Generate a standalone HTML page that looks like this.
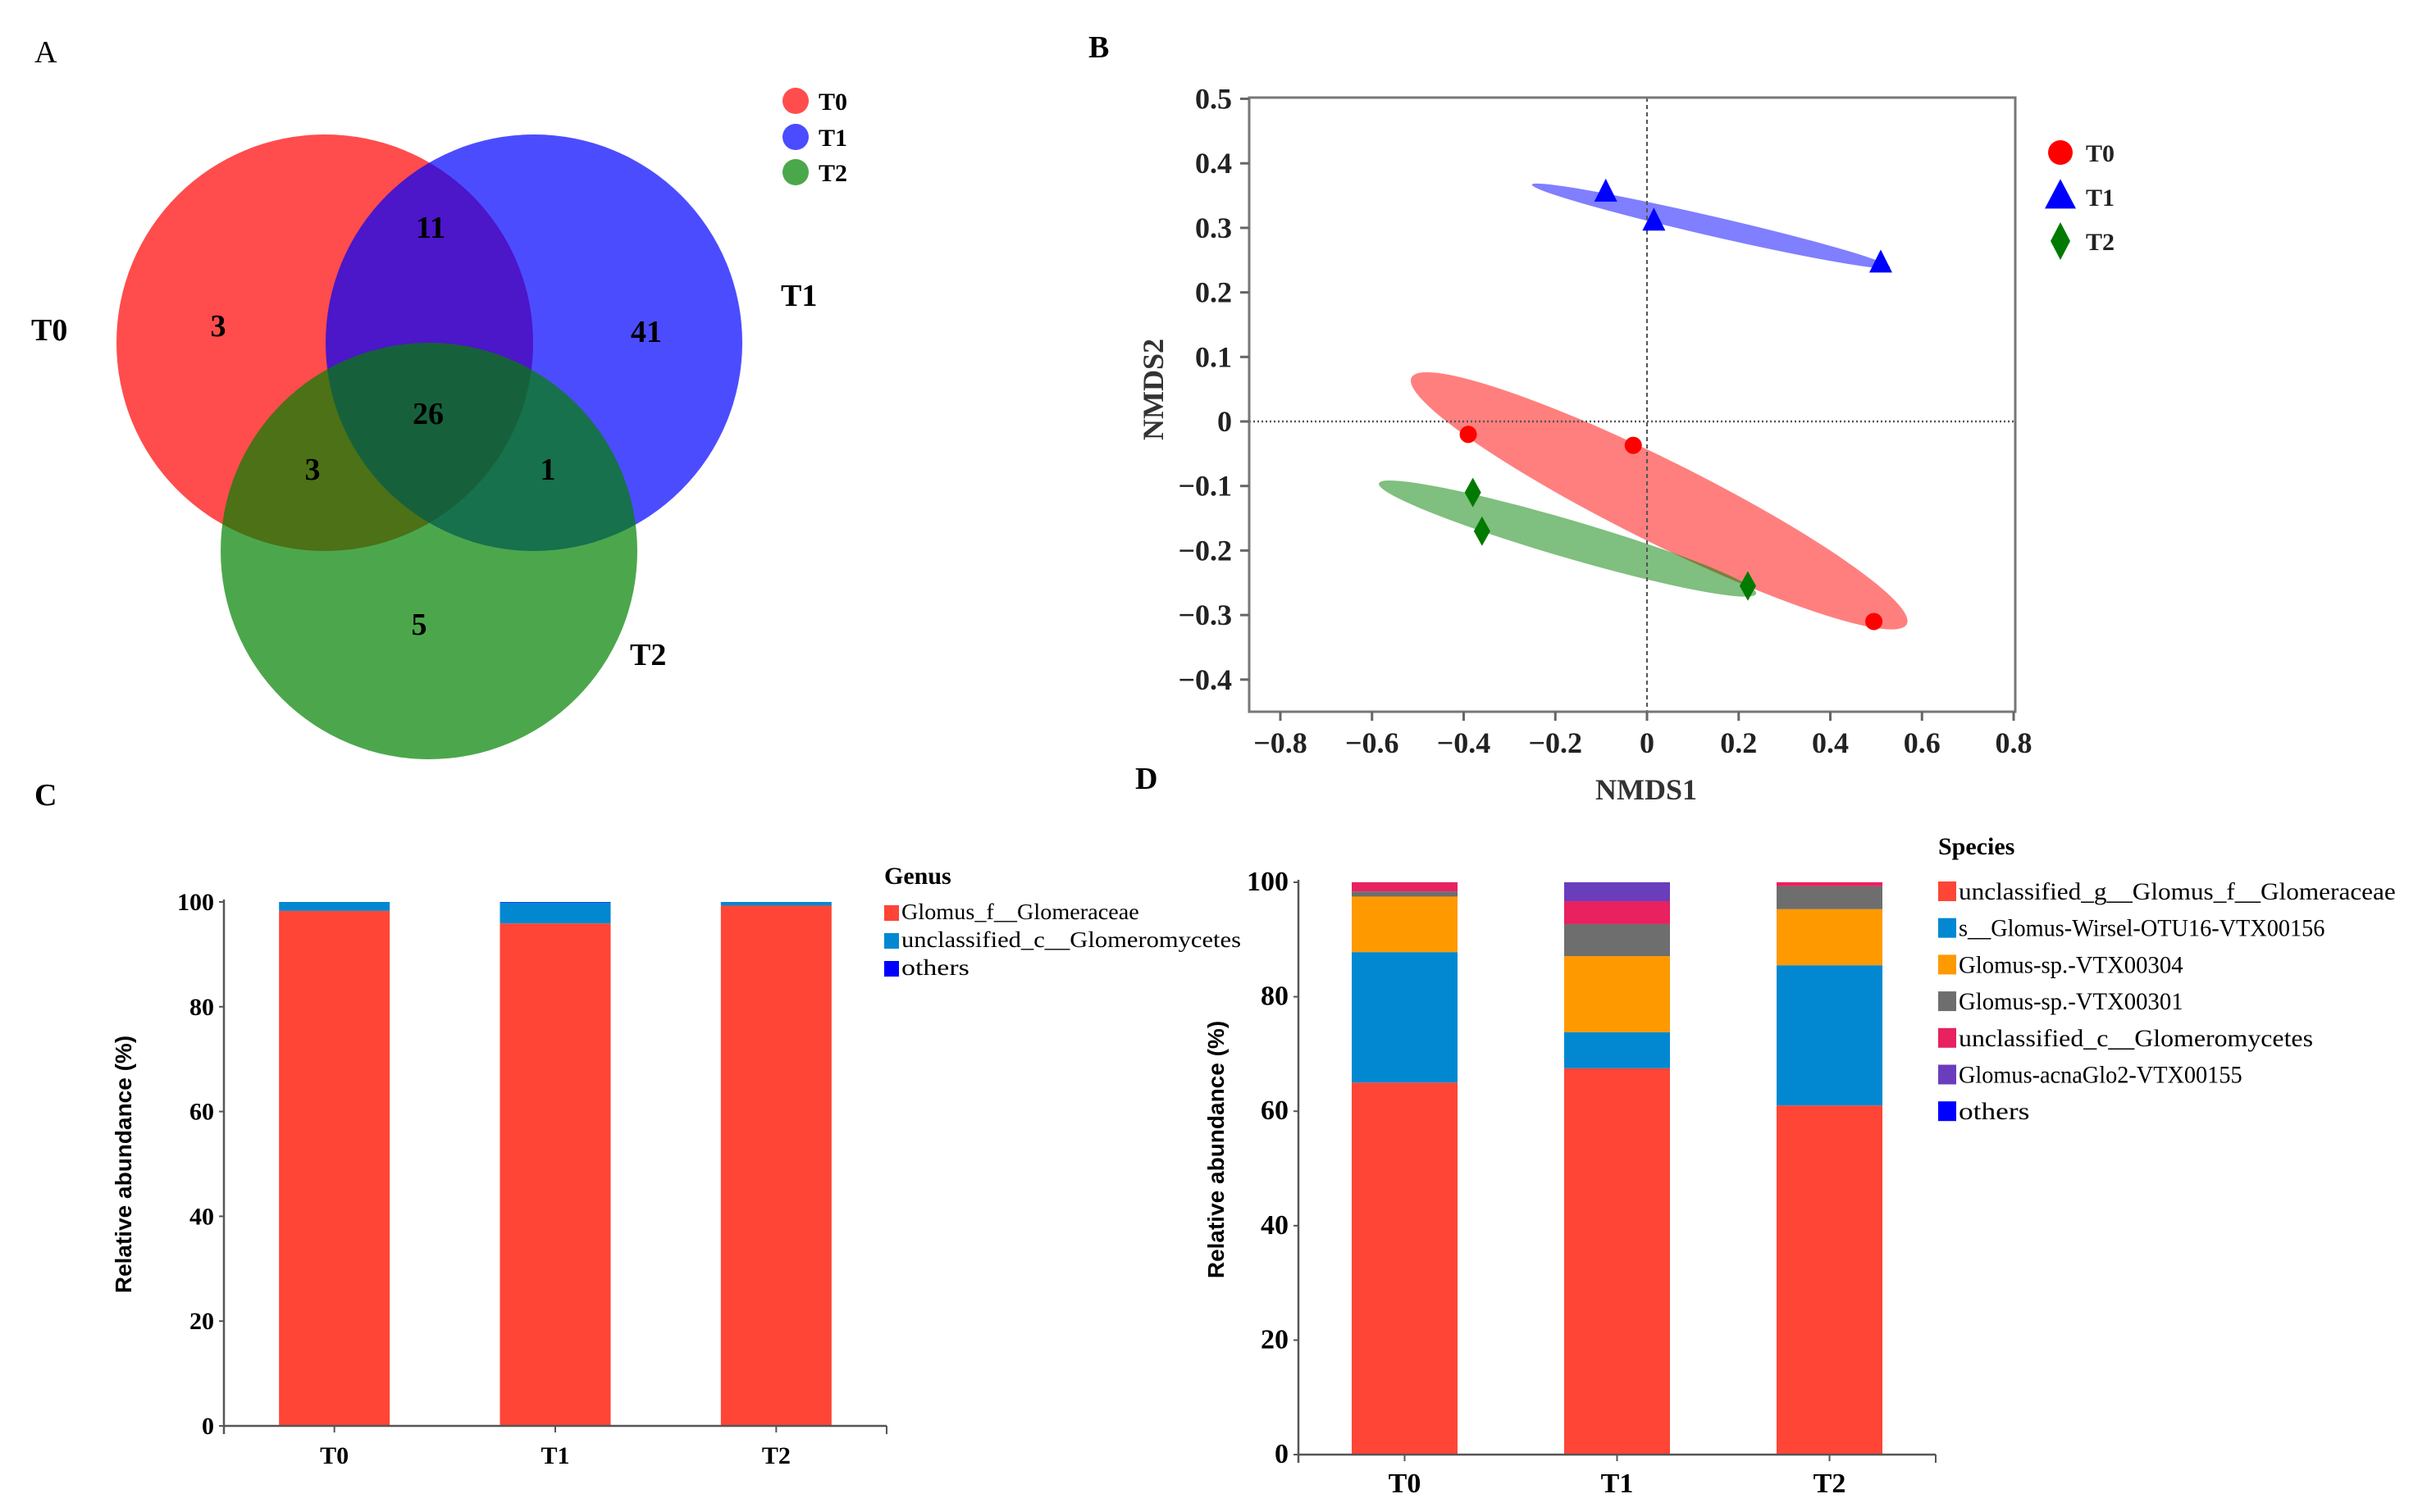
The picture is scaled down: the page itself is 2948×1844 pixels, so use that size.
<!DOCTYPE html>
<html><head><meta charset="utf-8"><style>
html,body{margin:0;padding:0;background:#fff;}
svg{display:block;}
text{font-family:"Liberation Serif",serif;}
.sans{font-family:"Liberation Sans",sans-serif;}
</style></head><body>
<svg id="fig" width="2948" height="1844" viewBox="0 0 2948 1844" xmlns="http://www.w3.org/2000/svg">
<rect width="2948" height="1844" fill="#fff"/>
<g id="venn">
<text x="42" y="76" font-size="38">A</text>
<circle cx="396" cy="418" r="254" fill="#ff0000" fill-opacity="0.7"/>
<circle cx="651" cy="418" r="254" fill="#0000ff" fill-opacity="0.7"/>
<circle cx="523" cy="672" r="254" fill="#008200" fill-opacity="0.7"/>
<g font-size="38" font-weight="bold" text-anchor="middle">
<text x="266" y="410">3</text>
<text x="525" y="290">11</text>
<text x="788" y="417">41</text>
<text x="522" y="517">26</text>
<text x="381" y="585">3</text>
<text x="668" y="585">1</text>
<text x="511" y="774">5</text>
</g>
<g font-size="38" font-weight="bold">
<text x="38" y="415">T0</text>
<text x="952" y="373">T1</text>
<text x="768" y="811">T2</text>
</g>
<g>
<ellipse cx="970" cy="123" rx="16" ry="16" fill="#ff4d4d"/>
<ellipse cx="970" cy="167" rx="16" ry="16" fill="#4b4bff"/>
<ellipse cx="970" cy="210" rx="16" ry="16" fill="#4aa84a"/>
<text x="998" y="134" font-size="30" font-weight="bold">T0</text>
<text x="998" y="178" font-size="30" font-weight="bold">T1</text>
<text x="998" y="221" font-size="30" font-weight="bold">T2</text>
</g>
</g>
<text x="1327" y="70" font-size="38" font-weight="bold">B</text>
<text x="42" y="982" font-size="38" font-weight="bold">C</text>
<text x="1384" y="962" font-size="38" font-weight="bold">D</text>
<g id="nmds"></g>
<g id="genus"></g>
<g id="species"></g>
</svg>
<script>
// ---------- NMDS data ----------
const groups = ['T0','T1','T2'];
const t0X = [-0.39, -0.03, 0.495];
const t0Y = [-0.02, -0.037, -0.31];
const t1X = [-0.09, 0.015, 0.51];
const t1Y = [0.355, 0.31, 0.245];
const t2X = [-0.38, -0.36, 0.22];
const t2Y = [-0.11, -0.17, -0.255];
// ellipse major-axis endpoints (data units) [x1,y1,x2,y2]
const ellipseT0 = [-0.514, 0.068, 0.567, -0.314];
const ellipseT1 = [-0.251, 0.367, 0.530, 0.239];
const ellipseT2 = [-0.585, -0.096, 0.238, -0.267];
const nmdsXTicks = [-0.8,-0.6,-0.4,-0.2,0,0.2,0.4,0.6,0.8];
const nmdsXTickLabels = ['\u22120.8','\u22120.6','\u22120.4','\u22120.2','0','0.2','0.4','0.6','0.8'];
const nmdsYTicks = [0.5,0.4,0.3,0.2,0.1,0,-0.1,-0.2,-0.3,-0.4];
const nmdsYTickLabels = ['0.5','0.4','0.3','0.2','0.1','0','\u22120.1','\u22120.2','\u22120.3','\u22120.4'];

// ---------- Genus data ----------
const genusCats = ['T0','T1','T2'];
const genusNames = ['Glomus_f__Glomeraceae','unclassified_c__Glomeromycetes','others'];
const genusGlomus = [98.3, 95.9, 99.3];
const genusUnclassified = [1.7, 4.0, 0.7];
const genusOthers = [0.0, 0.1, 0.0];
const genusTicks = [0,20,40,60,80,100];

// ---------- Species data ----------
const speciesCats = ['T0','T1','T2'];
const speciesNames = ['unclassified_g__Glomus_f__Glomeraceae','s__Glomus-Wirsel-OTU16-VTX00156','Glomus-sp.-VTX00304','Glomus-sp.-VTX00301','unclassified_c__Glomeromycetes','Glomus-acnaGlo2-VTX00155','others'];
const spUnclassG = [65.0, 67.5, 61.0];
const spWirsel = [22.8, 6.3, 24.5];
const spVTX304 = [9.7, 13.3, 9.8];
const spVTX301 = [0.9, 5.6, 4.0];
const spUnclassC = [1.6, 4.0, 0.7];
const spAcna = [0.0, 3.3, 0.0];
const spOthers = [0.0, 0.0, 0.0];
const speciesTicks = [0,20,40,60,80,100];

const NS='http://www.w3.org/2000/svg';
function mk(tag, attrs, parent){const e=document.createElementNS(NS,tag);for(const k in attrs)e.setAttribute(k,attrs[k]);parent.appendChild(e);return e;}

// ---------- NMDS ----------
(function(){
  const g=document.getElementById('nmds');
  const L=1523,R=2457,T=119,B=868;
  const sx=v=>2008+v*558.75;
  const sy=v=>514-v*787;
  const ells=[[ellipseT0,'#ff0000',50,'t0'],[ellipseT1,'#0000ff',12,'t1'],[ellipseT2,'#008000',23,'t2']];
  ells.forEach(([e,c,minor,n])=>{
    const x1=sx(e[0]),y1=sy(e[1]),x2=sx(e[2]),y2=sy(e[3]);
    const cx=(x1+x2)/2,cy=(y1+y2)/2,len=Math.hypot(x2-x1,y2-y1)/2,ang=Math.atan2(y2-y1,x2-x1)*180/Math.PI;
    const el=mk('ellipse',{cx:cx,cy:cy,rx:len,ry:minor,transform:`rotate(${ang} ${cx} ${cy})`,fill:c,'fill-opacity':0.5},g);
    
    
  });
  const vl=mk('line',{x1:sx(0),x2:sx(0),y1:T,y2:B,stroke:'#555','stroke-width':2,'stroke-dasharray':'5,4'},g);
  
  
  const hl=mk('line',{x1:L,x2:R,y1:sy(0),y2:sy(0),stroke:'#555','stroke-width':2.5,'stroke-dasharray':'2,3'},g);
  
  
  const fr=mk('rect',{x:L,y:T,width:R-L,height:B-T,fill:'none',stroke:'#777','stroke-width':3},g);
  
  
  nmdsYTicks.forEach((v,i)=>{
    const y=sy(v);
    const t=mk('line',{x1:L-11,x2:L,y1:y,y2:y,stroke:'#666','stroke-width':3},g);
    
    
    const tx=mk('text',{x:1502,y:y+12,'font-size':36,'font-weight':'bold','text-anchor':'end',fill:'#222'},g);
    tx.textContent=nmdsYTickLabels[i];
    
    
  });
  nmdsXTicks.forEach((v,i)=>{
    const x=sx(v);
    const t=mk('line',{x1:x,x2:x,y1:B,y2:B+11,stroke:'#666','stroke-width':3},g);
    
    
    const tx=mk('text',{x:x,y:918,'font-size':36,'font-weight':'bold','text-anchor':'middle',fill:'#222'},g);
    tx.textContent=nmdsXTickLabels[i];
    
    
  });
  const xt=mk('text',{x:2007,y:975,'font-size':36,'font-weight':'bold','text-anchor':'middle',fill:'#333'},g);
  xt.textContent='NMDS1';
  
  
  const yt=mk('text',{x:1418,y:475,'font-size':36,'font-weight':'bold','text-anchor':'middle',fill:'#333',transform:'rotate(-90 1418 475)'},g);
  yt.textContent='NMDS2';
  
  
  function circle(x,y,c,n,r){const e=mk('ellipse',{cx:x,cy:y,rx:r,ry:r,fill:c},g);}
  function tri(x,y,c,n,w,h){const e=mk('polygon',{points:`${x},${y-h*0.6} ${x-w},${y+h*0.4} ${x+w},${y+h*0.4}`,fill:c},g);}
  function dia(x,y,c,n,w,h){const e=mk('polygon',{points:`${x},${y-h} ${x+w},${y} ${x},${y+h} ${x-w},${y}`,fill:c},g);}
  t0X.forEach((v,i)=>circle(sx(v),sy(t0Y[i]),'#ff0000','point-t0',10.5));
  t1X.forEach((v,i)=>tri(sx(v),sy(t1Y[i]),'#0000ff','point-t1',14,28));
  t2X.forEach((v,i)=>dia(sx(v),sy(t2Y[i]),'#007a00','point-t2',10,18));
  const ly=[186,240,294];
  circle(2512,ly[0],'#ff0000','legend-marker-t0',15);
  tri(2512,ly[1],'#0000ff','legend-marker-t1',19,36);
  dia(2512,ly[2],'#007a00','legend-marker-t2',12,23);
  groups.forEach((n,i)=>{
    const t=mk('text',{x:2543,y:ly[i]+11,'font-size':30,'font-weight':'bold',fill:'#222'},g);
    t.textContent=n;
    
    
  });
})();

function stacked(gid, cats, series, colors, names, ticks, ax, legend){
  const g=document.getElementById(gid);
  const sy=v=>ax.y0-(ax.y0-ax.y100)*v/100;
  const band=(ax.R-ax.L)/cats.length;
  cats.forEach((c,i)=>{
    const cx=ax.L+band*(i+0.5);
    let acc=0;
    series.forEach((s,k)=>{
      const v=s[i]; if(v<=0){return;}
      const r=mk('rect',{x:cx-ax.bw/2,y:sy(acc+v),width:ax.bw,height:sy(acc)-sy(acc+v),fill:colors[k]},g);
      
      
      acc+=v;
    });
    const tk=mk('line',{x1:cx,x2:cx,y1:ax.y0,y2:ax.y0+8,stroke:'#555','stroke-width':2},g);
    
    
    const tl=mk('text',{x:cx,y:ax.y0+46,'font-size':ax.fs,'font-weight':'bold','text-anchor':'middle'},g);
    tl.textContent=c;
    
    
  });
  const xa=mk('line',{x1:ax.L,x2:ax.R,y1:ax.y0,y2:ax.y0,stroke:'#555','stroke-width':2.5},g);
  
  
  const xe=mk('line',{x1:ax.R,x2:ax.R,y1:ax.y0,y2:ax.y0+10,stroke:'#555','stroke-width':2},g);
  
  
  const ya=mk('line',{x1:ax.L,x2:ax.L,y1:ax.y100-3,y2:ax.y0+10,stroke:'#555','stroke-width':2.5},g);
  
  
  ticks.forEach(v=>{
    const y=sy(v);
    const t=mk('line',{x1:ax.L-6,x2:ax.L,y1:y,y2:y,stroke:'#555','stroke-width':2},g);
    
    
    const tx=mk('text',{x:ax.L-12,y:y+10,'font-size':ax.fs,'font-weight':'bold','text-anchor':'end'},g);
    tx.textContent=v;
    
    
  });
  const yt=mk('text',{x:ax.tx,y:ax.ty,'font-size':28,'font-weight':'bold','text-anchor':'middle',class:'sans',transform:`rotate(-90 ${ax.tx} ${ax.ty})`},g);
  yt.textContent='Relative abundance  (%)';
  
  
  const lh=mk('text',{x:legend.x,y:legend.hy,'font-size':30,'font-weight':'bold'},g);
  lh.textContent=legend.title;
  
  
  names.forEach((n,k)=>{
    const y=legend.y0+k*legend.dy;
    const s=mk('rect',{x:legend.x,y:y,width:legend.sw,height:legend.sh,fill:colors[k]},g);
    
    
    const t=mk('text',{x:legend.x+legend.sw+3,y:y+legend.sh-2,'font-size':legend.fs,textLength:n.length*legend.cw,lengthAdjust:'spacingAndGlyphs'},g);
    t.textContent=n;
    
    
  });
}
stacked('genus', genusCats, [genusGlomus,genusUnclassified,genusOthers], ['#fe4536','#0288d1','#0000ff'], genusNames, genusTicks,
  {L:273,R:1081,y0:1739,y100:1100,bw:135,fs:30,tx:160,ty:1420},
  {title:'Genus',x:1078,hy:1078,y0:1104,dy:34,sw:18,sh:19,fs:27,cw:13.8});
stacked('species', speciesCats, [spUnclassG,spWirsel,spVTX304,spVTX301,spUnclassC,spAcna,spOthers], ['#fe4536','#0288d1','#ff9900','#6e6e6e','#e8215f','#6a3dbd','#0000ff'], speciesNames, speciesTicks,
  {L:1583,R:2360,y0:1774,y100:1076,bw:129,fs:34,tx:1492,ty:1402},
  {title:'Species',x:2363,hy:1042,y0:1075,dy:44.7,sw:22,sh:24,fs:30,cw:14.4});
</script>
</body></html>
